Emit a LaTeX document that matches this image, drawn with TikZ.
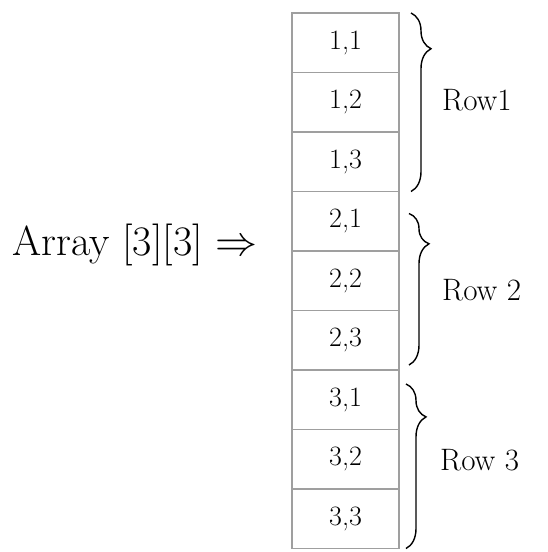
\RequirePackage{fix-cm}
\documentclass[tikz,border=0pt]{standalone}
\usepackage{amsmath}
\usepackage{fontspec}
\usepackage{tikz}
\usetikzlibrary{positioning,decorations.pathreplacing}

\begin{document}
\begin{tikzpicture}[
  x=1pt,
  y=-1pt,
  cell/.style={draw=gray!75, line width=1.3pt, minimum width=107pt, minimum height=59.5pt,
    inner sep=0pt, outer sep=0pt, font=\fontsize{28}{32}\selectfont},
  rowbrace/.style={decorate, decoration={brace, amplitude=20pt, aspect=0.2}, line width=1.4pt},
  rowlabel/.style={anchor=west, inner sep=0pt, font=\fontsize{31}{36}\selectfont},
  arrlabel/.style={anchor=west, inner sep=0pt, font=\fontsize{42}{48}\selectfont}
]
\useasboundingbox (0,0) rectangle (547,552);

\node[cell] (c11) at (345.5,42.75) {1,1};
\node[cell, below=0pt of c11] (c12) {1,2};
\node[cell, below=0pt of c12] (c13) {1,3};
\node[cell, below=0pt of c13] (c21) {2,1};
\node[cell, below=0pt of c21] (c22) {2,2};
\node[cell, below=0pt of c22] (c23) {2,3};
\node[cell, below=0pt of c23] (c31) {3,1};
\node[cell, below=0pt of c31] (c32) {3,2};
\node[cell, below=0pt of c32] (c33) {3,3};

\node[arrlabel] (arr) at (12,245) {Array [3][3] $\Rightarrow$};

\draw[rowbrace] ([xshift=12pt]c11.north east) -- ([xshift=12pt]c13.south east);
\draw[rowbrace] ([xshift=10pt,yshift=-22pt]c21.north east) -- ([xshift=10pt,yshift=5pt]c23.south east);
\draw[rowbrace] ([xshift=7pt,yshift=-14pt]c31.north east) -- ([xshift=7pt]c33.south east);

\node[rowlabel] (row1) at (442,100) {Row1};
\node[rowlabel] (row2) at (442,290) {Row 2};
\node[rowlabel] (row3) at (440,460) {Row 3};
\end{tikzpicture}
\end{document}
